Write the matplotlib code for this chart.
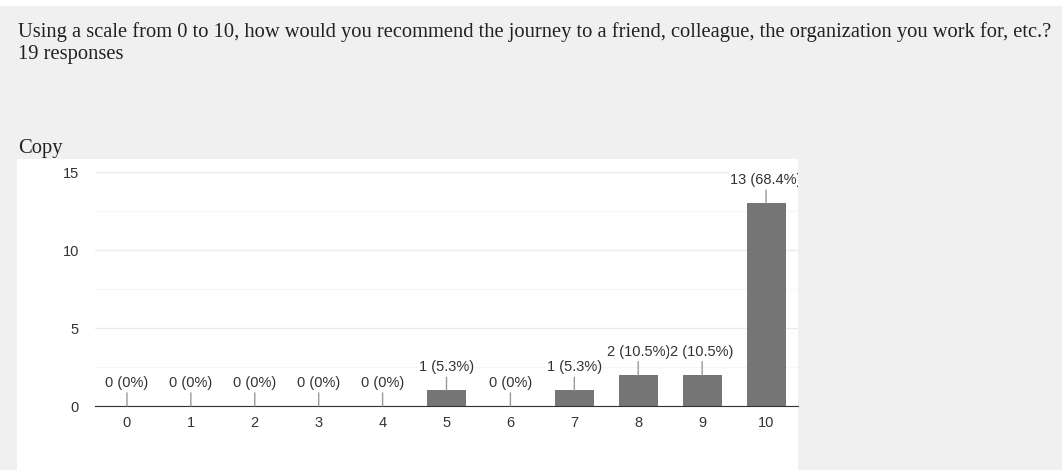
import matplotlib.pyplot as plt
from matplotlib.patches import Rectangle

question = "Using a scale from 0 to 10, how would you recommend the journey to a friend, colleague, the organization you work for, etc.?"
total = 19
scores = [0, 1, 2, 3, 4, 5, 6, 7, 8, 9, 10]
counts = [0, 0, 0, 0, 0, 1, 0, 1, 2, 2, 13]
y_ticks = [0, 5, 10, 15]

W, H = 1062, 470
fig = plt.figure(figsize=(W / 100, H / 100), dpi=100)
fig.patch.set_facecolor('#f0f0f0')

# white strip across the top and the white card the chart sits on
fig.patches.append(Rectangle((0, 1 - 6 / H), 1, 6 / H, transform=fig.transFigure,
                             facecolor='white', edgecolor='none', zorder=-1))
fig.patches.append(Rectangle((17 / W, 0), (798 - 17) / W, (H - 159) / H, transform=fig.transFigure,
                             facecolor='white', edgecolor='none', zorder=-1))

serif = ['Liberation Serif', 'DejaVu Serif']
fig.text(18 / W, 1 - 37 / H, question, family=serif, fontsize=14.8, color='#202124', va='baseline')
fig.text(18 / W, 1 - 59 / H, f"{total} responses", family=serif, fontsize=14.8, color='#202124', va='baseline')
fig.text(18 / W, 1 - 153 / H, "Copy", family=serif, fontsize=14.8, color='#202124', va='baseline')

plt.rcParams['font.family'] = ['Liberation Sans', 'DejaVu Sans']

ax = fig.add_axes([95 / W, (H - 406) / H, (798 - 95) / W, (406 - 172) / H])
ax.set_facecolor('none')

ax.bar(scores, counts, width=0.61, color='#757575', zorder=3)

ax.set_xlim(-0.5, 10.5)
ax.set_ylim(0, 15)
ax.set_xticks(scores)
ax.set_yticks(y_ticks)
ax.set_yticks([2.5, 7.5, 12.5], minor=True)
ax.tick_params(axis='both', which='both', length=0, labelsize=10.5, labelcolor='#333333')
ax.tick_params(axis='x', pad=7)
ax.tick_params(axis='y', pad=11.5)
ax.grid(True, axis='y', which='major', color='#ebebeb', linewidth=1, zorder=0)
ax.grid(True, axis='y', which='minor', color='#f6f6f6', linewidth=1, zorder=0)
for side in ['top', 'right', 'left']:
    ax.spines[side].set_visible(False)
ax.spines['bottom'].set_color('#333333')
ax.spines['bottom'].set_zorder(4)

# value labels with a short leader line up from each bar
for i, (s, c) in enumerate(zip(scores, counts)):
    pct = 100 * c / total
    pct_txt = f"{pct:.0f}%" if c == 0 else f"{pct:.1f}%"
    ax.annotate(f"{c} ({pct_txt})", xy=(s, c), xytext=(0, 23), textcoords='offset pixels',
                ha='center', va='center', fontsize=10.5, color='#333333',
                bbox=dict(facecolor='white', edgecolor='none', pad=1.0),
                arrowprops=dict(arrowstyle='-', color='#999999', lw=1, shrinkA=1, shrinkB=0),
                annotation_clip=False, clip_on=True, zorder=5 + i)

fig.savefig('out.png', dpi=100, facecolor=fig.get_facecolor())
